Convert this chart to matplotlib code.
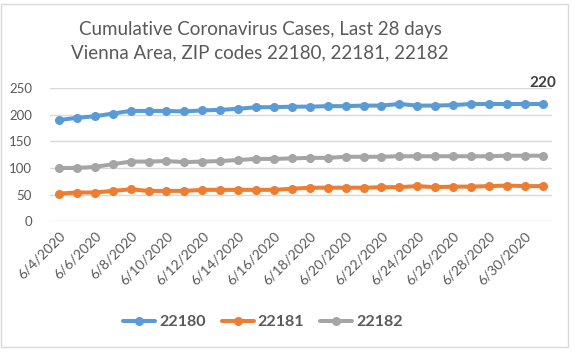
import matplotlib
matplotlib.use("Agg")
import matplotlib.pyplot as plt
from matplotlib.patches import Rectangle
import pandas as pd

plt.rcParams['font.family'] = ['Lato', 'DejaVu Sans']

dates = pd.date_range("2020-06-04", periods=28, freq="D")
labels = [f"{d.month}/{d.day}/{d.year}" for d in dates]

s22180 = [190, 194, 197, 202, 207, 207, 207, 206, 208, 209, 211, 214, 214, 215,
          215, 216, 216, 217, 217, 220, 217, 217, 218, 220, 220, 220, 220, 220]
s22181 = [52, 54, 54, 57, 60, 57, 57, 57, 59, 59, 59, 59, 59, 61,
          63, 63, 63, 63, 64, 64, 66, 64, 65, 65, 66, 67, 66, 66]
s22182 = [100, 100, 102, 107, 112, 112, 113, 111, 112, 113, 115, 117, 117, 118,
          119, 119, 121, 121, 121, 122, 122, 122, 122, 122, 122, 123, 123, 123]

series = [("22180", s22180, "#5B9BD5"),
          ("22181", s22181, "#ED7D31"),
          ("22182", s22182, "#A5A5A5")]

txt = "#595959"
fig = plt.figure(figsize=(5.75, 3.52), dpi=100)
fig.patch.set_facecolor("white")
ax = fig.add_axes([50/575, 1-221.3/352, (551.7-50)/575, (221.3-88)/352])

x = list(range(len(labels)))
for name, vals, col in series:
    ax.plot(x, vals, color=col, lw=2.9, marker="o", ms=5.5, label=name,
            solid_capstyle="round", zorder=3)

ax.set_xlim(-0.5, len(labels) - 0.5)
ax.set_ylim(0, 250)
ax.set_yticks([0, 50, 100, 150, 200, 250])
ax.grid(axis="y", color="#D9D9D9", lw=1)
ax.set_axisbelow(True)
for sp in ax.spines.values():
    sp.set_visible(False)
ax.tick_params(axis="both", length=0, colors=txt, labelsize=9.5)
ax.tick_params(axis="y", pad=13)
ax.set_xticks(x[::2])
ax.set_xticklabels(labels[::2], rotation=45, ha="right", va="top",
                   rotation_mode="anchor", fontsize=10)
ax.tick_params(axis="x", pad=6)

ax.annotate(str(s22180[-1]), (x[-1], s22180[-1]), xytext=(0, 10),
            textcoords="offset points", ha="center", va="bottom",
            fontsize=11, fontweight="bold", color="#404040")

fig.text(260/575, 1-29/352, "Cumulative Coronavirus Cases, Last 28 days",
         ha="center", va="center", fontsize=13.5, color=txt)
fig.text(260/575, 1-53/352, "Vienna Area, ZIP codes 22180, 22181, 22182",
         ha="center", va="center", fontsize=13.5, color=txt)

leg = fig.legend(loc="center", bbox_to_anchor=(263/575, 1-322/352), ncol=3,
                 frameon=False, handlelength=2.0, columnspacing=1.0,
                 handletextpad=0.25, prop={"size": 11.5, "weight": "bold"})
for t in leg.get_texts():
    t.set_color(txt)

# chart border
fig.patches.append(Rectangle((0.5/575, 1-347/352), 567/575, 343/352,
                             transform=fig.transFigure, fill=False,
                             edgecolor="#D9D9D9", lw=1))

fig.savefig("out.png", dpi=100)
